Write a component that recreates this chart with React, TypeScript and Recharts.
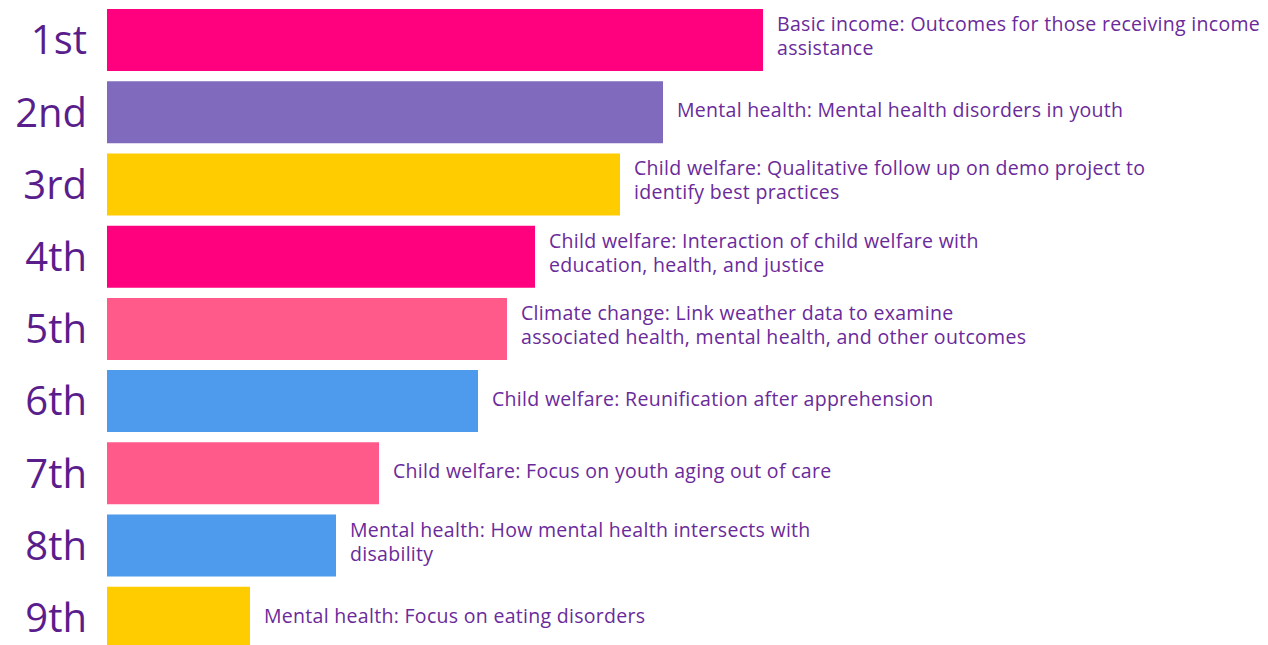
import { Bar, BarChart, Cell, LabelList, XAxis, YAxis } from "recharts";

const ranks = ["1st", "2nd", "3rd", "4th", "5th", "6th", "7th", "8th", "9th"];

// "|" marks the line break inside each label
const topics = [
  "Basic income: Outcomes for those receiving income|assistance",
  "Mental health: Mental health disorders in youth",
  "Child welfare: Qualitative follow up on demo project to|identify best practices",
  "Child welfare: Interaction of child welfare with|education, health, and justice",
  "Climate change: Link weather data to examine|associated health, mental health, and other outcomes",
  "Child welfare: Reunification after apprehension",
  "Child welfare: Focus on youth aging out of care",
  "Mental health: How mental health intersects with|disability",
  "Mental health: Focus on eating disorders",
];

const scores = [65.6, 55.6, 51.3, 42.8, 40.0, 37.1, 27.2, 22.9, 14.3];

const barColors = [
  "#FF007F",
  "#7F6ABD",
  "#FFCC00",
  "#FF007F",
  "#FF5A8A",
  "#4E9AED",
  "#FF5A8A",
  "#4E9AED",
  "#FFCC00",
];

const rows = ranks.map((rank, i) => ({
  rank,
  topic: topics[i],
  score: scores[i],
}));

const FONT = "'Open Sans', Lato, sans-serif";

function TopicLabel(props: any) {
  const { x, y, width, height, value } = props;
  const lines = String(value).split("|");
  const lineHeight = 24;
  const shift = lines.length > 1 ? -5 : -3;
  const cy = y + height / 2 + shift - ((lines.length - 1) * lineHeight) / 2;
  return (
    <text
      x={x + width + 14}
      y={cy}
      fill="#6A2A9A"
      fontSize={19.5}
      fontFamily={FONT}
      letterSpacing={0.3}
      dominantBaseline="central"
    >
      {lines.map((line, i) => (
        <tspan key={i} x={x + width + 14} dy={i === 0 ? 0 : lineHeight}>
          {line}
        </tspan>
      ))}
    </text>
  );
}

export default function App() {
  return (
    <div
      style={{
        position: "absolute",
        left: 0,
        top: 0,
        width: 1268,
        height: 645,
        overflow: "hidden",
        background: "#fff",
      }}
    >
      <BarChart
        width={1268}
        height={655}
        data={rows}
        layout="vertical"
        barCategoryGap={10}
        margin={{ top: 4, right: 161, bottom: 1, left: 0 }}
      >
        <XAxis type="number" domain={[0, 100]} hide />
        <YAxis
          type="category"
          dataKey="rank"
          width={107}
          axisLine={false}
          tickLine={false}
          tickSize={0}
          tickMargin={20}
          tick={{ fontSize: 40, fill: "#5A1E8C", fontFamily: FONT }}
        />
        <Bar dataKey="score" barSize={62} isAnimationActive={false}>
          {rows.map((r, i) => (
            <Cell key={r.rank} fill={barColors[i]} />
          ))}
          <LabelList dataKey="topic" content={<TopicLabel />} />
        </Bar>
      </BarChart>
    </div>
  );
}
